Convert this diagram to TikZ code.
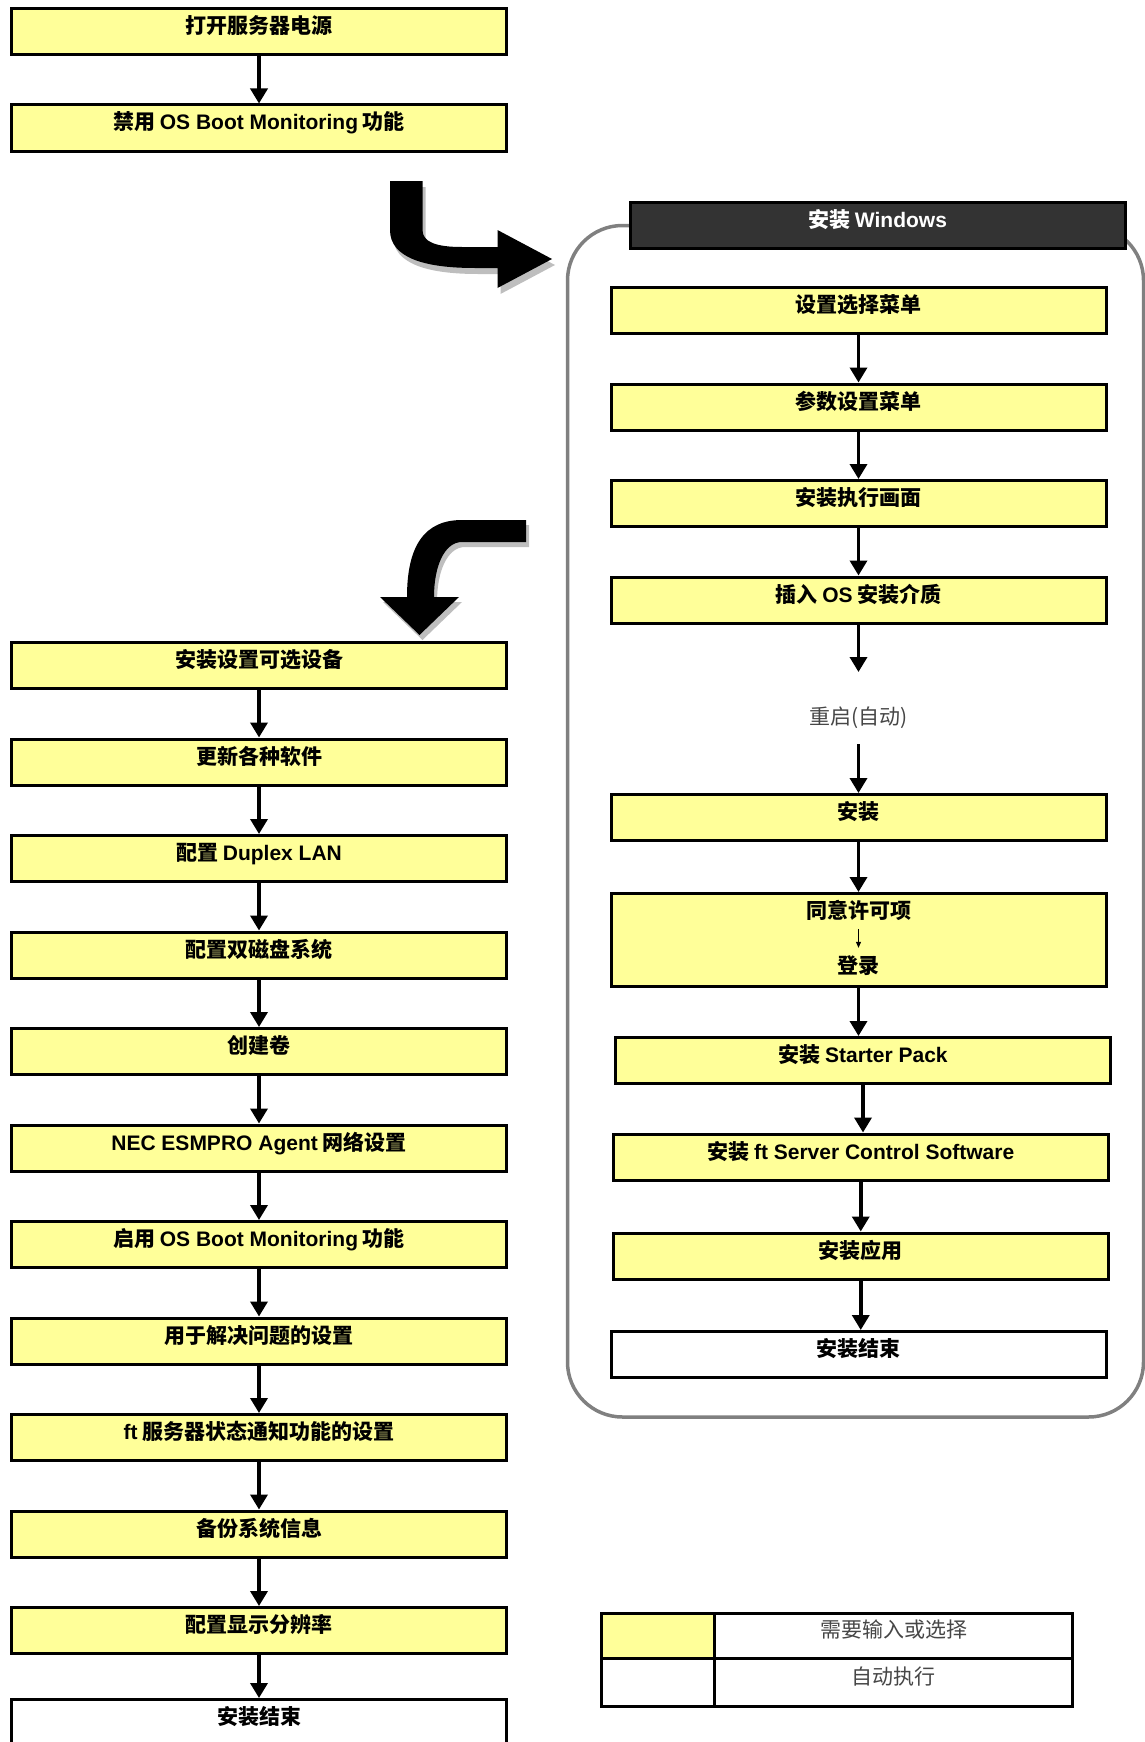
\documentclass[tikz,border=0pt]{standalone}
\usepackage{fontspec}
\setmainfont{Liberation Sans}
\newfontfamily\zh{Noto Sans CJK SC}
\usepackage{xcolor}
\usepackage{tikz}
\usetikzlibrary{arrows.meta, positioning}
\definecolor{stepyellow}{RGB}{255,255,153}
\definecolor{titlegray}{RGB}{51,51,51}
\definecolor{framegray}{RGB}{128,128,128}
\definecolor{shadowgray}{RGB}{190,190,190}
\definecolor{notegray}{RGB}{70,70,70}
\newcommand{\latn}[1]{{\rmfamily\bfseries #1}}
\tikzset{
  arrow/.style={draw=black, line width=3.5pt, -{Triangle[width=17pt,length=15pt]}},
  thinarrow/.style={draw=black, line width=0.8pt, -{Triangle[width=5pt,length=6pt]}},
  stepbox/.style={draw=black, fill=stepyellow, line width=3pt, rectangle, minimum width=495pt, minimum height=46pt, inner sep=0pt, text height=10pt, text depth=6pt, font=\zh\bfseries\fontsize{21}{25}\selectfont},
  endbox/.style={stepbox, fill=white},
  titlebox/.style={stepbox, fill=titlegray, text=white},
  plaintext/.style={inner sep=0pt, font=\zh\bfseries\fontsize{21}{25}\selectfont},
  notetext/.style={inner sep=0pt, outer sep=0pt, minimum height=72pt, text height=32pt, text depth=0pt, text=notegray, font=\zh\fontsize{21}{25}\selectfont},
  keybox/.style={draw=black, line width=3pt, rectangle, minimum width=113pt},
  descbox/.style={draw=black, line width=3pt, rectangle, minimum width=358pt, inner sep=0pt, text height=10pt, text depth=6pt, text=notegray, font=\zh\fontsize{21}{25}\selectfont}
}
\begin{document}
\begin{tikzpicture}[x=1pt, y=-1pt, node distance=47.5pt]
  \useasboundingbox (0,0) rectangle (1145,1742);

  % big turn arrows
  \fill [shadowgray, shift={(3,6)}] (390,181) -- (422.5,181) -- (422.5,230) .. controls (422.5,242) and (436,247) .. (462,247) -- (497.5,247) -- (497.5,230) -- (552,259) -- (497.5,288) -- (497.5,268) -- (475,268) .. controls (425,268) and (390,258) .. (390,230) -- cycle;
  \fill [black] (390,181) -- (422.5,181) -- (422.5,230) .. controls (422.5,242) and (436,247) .. (462,247) -- (497.5,247) -- (497.5,230) -- (552,259) -- (497.5,288) -- (497.5,268) -- (475,268) .. controls (425,268) and (390,258) .. (390,230) -- cycle;
  \fill [shadowgray, shift={(3,5)}] (526,520) -- (526,542) -- (462,542) .. controls (445,542) and (434,565) .. (434,597) -- (459,597) -- (419.5,635) -- (380,597) -- (407,597) .. controls (407,545) and (425,520) .. (462,520) -- cycle;
  \fill [black] (526,520) -- (526,542) -- (462,542) .. controls (445,542) and (434,565) .. (434,597) -- (459,597) -- (419.5,635) -- (380,597) -- (407,597) .. controls (407,545) and (425,520) .. (462,520) -- cycle;

  % Windows frame
  \draw [framegray, line width=3.5pt, rounded corners=55pt] (567.5,225.5) rectangle (1143.5,1417);

  % left column, top
  \node [stepbox] (power) at (259,31.5) {打开服务器电源};
  \node [stepbox, below=of power] (bootoff) {禁用 \latn{OS Boot Monitoring} 功能};

  % right column
  \node [titlebox] (winhdr) at (877.5,225.5) {安装 \latn{Windows}};
  \node [stepbox] (selmenu) at (858.5,310.5) {设置选择菜单};
  \node [stepbox, below=of selmenu] (parmenu) {参数设置菜单};
  \node [stepbox, below=of parmenu] (runscr) {安装执行画面};
  \node [stepbox, below=of runscr] (media) {插入 \latn{OS} 安装介质};
  \node [notetext, below=of media] (reboot) {重启(自动)};
  \node [stepbox, below=49pt of reboot] (inst) {安装};
  \node [stepbox, minimum height=93pt, below=50pt of inst] (agree) {};
  \node [plaintext] (agreetxt) at ([yshift=29.5pt]agree.center) {同意许可项};
  \node [plaintext] (login) at ([yshift=-26pt]agree.center) {登录};
  \node [stepbox, below=48pt of agree, xshift=4.5pt] (starter) {安装 \latn{Starter Pack}};
  \node [stepbox, below=of starter, xshift=-2.25pt] (ftsc) {安装 \latn{ft Server Control Software}};
  \node [stepbox, below=50pt of ftsc] (apps) {安装应用};
  \node [endbox, below=49.5pt of apps, xshift=-2.25pt] (finR) {安装结束};

  % left column, after Windows
  \node [stepbox] (opt) at (259,665.5) {安装设置可选设备};
  \node [stepbox, below=of opt] (upd) {更新各种软件};
  \node [stepbox, below=of upd] (lan) {配置 \latn{Duplex LAN}};
  \node [stepbox, below=of lan] (disk) {配置双磁盘系统};
  \node [stepbox, below=of disk] (vol) {创建卷};
  \node [stepbox, below=of vol] (esm) {\latn{NEC ESMPRO Agent} 网络设置};
  \node [stepbox, below=of esm] (booton) {启用 \latn{OS Boot Monitoring} 功能};
  \node [stepbox, below=of booton] (trouble) {用于解决问题的设置};
  \node [stepbox, below=of trouble] (notify) {\latn{ft} 服务器状态通知功能的设置};
  \node [stepbox, below=of notify] (backup) {备份系统信息};
  \node [stepbox, below=of backup] (disp) {配置显示分辨率};
  \node [endbox, below=43pt of disp] (finL) {安装结束};

  % legend
  \node [keybox, fill=stepyellow, minimum height=45.5pt] (keyin) at (658,1635.75) {};
  \node [descbox, minimum height=45.5pt, right=-3pt of keyin] (descin) {需要输入或选择};
  \node [keybox, fill=white, minimum height=48pt, below=-3pt of keyin] (keyauto) {};
  \node [descbox, minimum height=48pt, right=-3pt of keyauto] (descauto) {自动执行};

  \draw [arrow] (power) -- (bootoff);

  \draw [arrow] (selmenu) -- (parmenu);
  \draw [arrow] (parmenu) -- (runscr);
  \draw [arrow] (runscr) -- (media);
  \draw [arrow] (media) -- (reboot);
  \draw [arrow] (reboot) -- (inst);
  \draw [arrow] (inst) -- (agree);
  \draw [thinarrow, shorten <=8pt, shorten >=8pt] (agreetxt) -- (login);
  \draw [arrow] (agree.south) -- (agree.south |- starter.north);
  \draw [arrow] (starter.south) -- (starter.south |- ftsc.north);
  \draw [arrow] (ftsc) -- (apps);
  \draw [arrow] (apps.south) -- (apps.south |- finR.north);

  \draw [arrow] (opt) -- (upd);
  \draw [arrow] (upd) -- (lan);
  \draw [arrow] (lan) -- (disk);
  \draw [arrow] (disk) -- (vol);
  \draw [arrow] (vol) -- (esm);
  \draw [arrow] (esm) -- (booton);
  \draw [arrow] (booton) -- (trouble);
  \draw [arrow] (trouble) -- (notify);
  \draw [arrow] (notify) -- (backup);
  \draw [arrow] (backup) -- (disp);
  \draw [arrow] (disp) -- (finL);
\end{tikzpicture}
\end{document}
